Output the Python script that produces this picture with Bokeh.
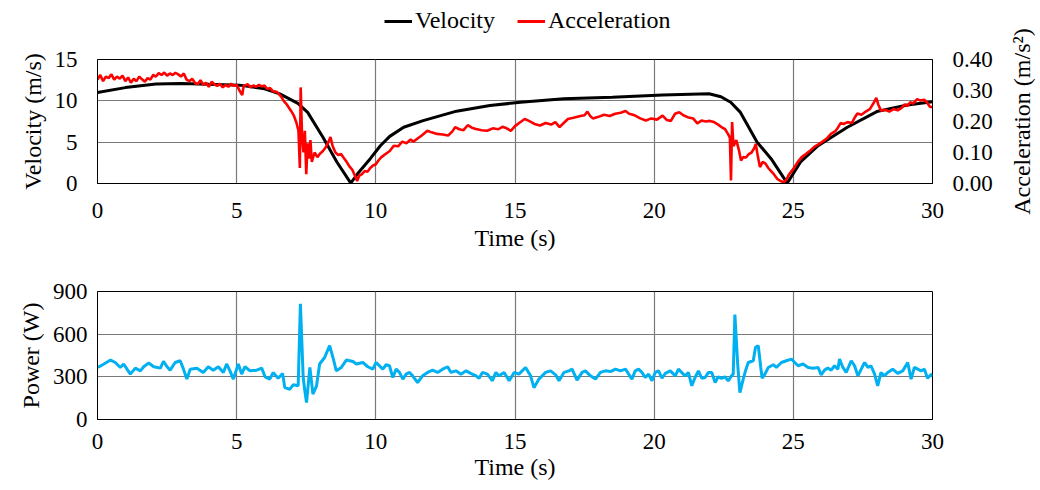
from bokeh.plotting import figure
from bokeh.models import Range1d, LinearAxis, Legend, LegendItem, FixedTicker, PrintfTickFormatter, Title
from bokeh.layouts import column, row
from bokeh.embed import file_html
from bokeh.resources import INLINE

FONT = "Liberation Serif"
TICK_FS = "23px"
TITLE_FS = "24px"

# ---- data ----
vel_t = [0, 1, 2.1, 3, 4, 5.1, 6.0, 6.55, 7.2, 7.55, 8.1, 8.6, 9.1, 9.35, 9.8, 10.17, 10.5,
         11.0, 11.7, 12.9, 14.1, 15.2, 16.75, 18.5, 20.3, 21.97, 22.4, 22.75, 23.1, 23.7,
         24.2, 24.78, 25.26, 25.86, 26.94, 28.0, 29.1, 30]
vel_v = [11.0, 11.6, 12.05, 12.1, 12.0, 11.9, 11.45, 10.85, 9.7, 8.6, 5.6, 2.6, 0.05, 1.2,
         3.0, 4.6, 5.7, 6.8, 7.6, 8.75, 9.43, 9.83, 10.24, 10.44, 10.7, 10.85, 10.5, 9.83,
         8.6, 5.0, 3.0, 0.05, 2.6, 4.5, 6.8, 8.7, 9.5, 9.9]

acc_t = [0.00, 0.10, 0.20, 0.30, 0.40, 0.50, 0.60, 0.70, 0.80, 0.90, 1.00, 1.10, 1.20, 1.30,
         1.40, 1.50, 1.60, 1.70, 1.80, 1.90, 2.00, 2.10, 2.20, 2.30, 2.40, 2.50, 2.60, 2.70,
         2.80, 2.90, 3.00, 3.10, 3.20, 3.30, 3.40, 3.50, 3.60, 3.70, 3.80, 3.90, 4.00, 4.10,
         4.20, 4.30, 4.40, 4.50, 4.60, 4.70, 4.80, 4.90, 5.00, 5.10, 5.20, 5.25, 5.40, 5.50,
         5.60, 5.70, 5.80, 5.90, 6.00, 6.10, 6.20, 6.30, 6.45, 6.60, 6.70, 6.80, 6.95, 7.05,
         7.15, 7.22, 7.27, 7.30, 7.35, 7.40, 7.45, 7.50, 7.55, 7.60, 7.65, 7.70, 7.80, 7.90,
         8.00, 8.10, 8.20, 8.30, 8.37, 8.45, 8.55, 8.65, 8.75, 8.85, 8.95, 9.05, 9.15, 9.25,
         9.33, 9.40, 9.50, 9.60, 9.70, 9.80, 9.90, 10.00, 10.10, 10.20, 10.35, 10.50, 10.65,
         10.80, 10.95, 11.10, 11.25, 11.35, 11.50, 11.65, 11.85, 12.00, 12.20, 12.40, 12.60,
         12.75, 12.85, 13.00, 13.15, 13.30, 13.45, 13.60, 13.80, 14.00, 14.20, 14.40, 14.55,
         14.70, 14.85, 15.00, 15.15, 15.35, 15.50, 15.70, 15.90, 16.10, 16.30, 16.45, 16.60,
         16.75, 16.90, 17.10, 17.35, 17.50, 17.60, 17.70, 17.80, 18.00, 18.20, 18.40, 18.60,
         18.80, 18.97, 19.10, 19.30, 19.50, 19.70, 19.90, 20.10, 20.30, 20.45, 20.60, 20.75,
         20.90, 21.05, 21.20, 21.40, 21.55, 21.70, 21.85, 22.00, 22.15, 22.30, 22.45, 22.55,
         22.65, 22.72, 22.76, 22.80, 22.85, 22.95, 23.05, 23.12, 23.20, 23.30, 23.40, 23.50,
         23.60, 23.65, 23.72, 23.80, 23.90, 24.00, 24.10, 24.20, 24.30, 24.42, 24.54, 24.65,
         24.75, 24.85, 25.00, 25.15, 25.30, 25.45, 25.60, 25.75, 25.90, 26.05, 26.20, 26.35,
         26.50, 26.60, 26.70, 26.80, 26.95, 27.10, 27.20, 27.30, 27.45, 27.60, 27.75, 27.90,
         27.98, 28.05, 28.15, 28.30, 28.45, 28.60, 28.75, 28.90, 29.00, 29.10, 29.20, 29.30,
         29.45, 29.55, 29.70, 29.80, 29.90, 30.00]
acc_a = [0.335, 0.350, 0.330, 0.345, 0.340, 0.352, 0.335, 0.345, 0.338, 0.348, 0.330, 0.342,
         0.325, 0.338, 0.330, 0.345, 0.336, 0.328, 0.340, 0.335, 0.350, 0.345, 0.356, 0.350,
         0.358, 0.348, 0.355, 0.350, 0.357, 0.352, 0.345, 0.355, 0.335, 0.330, 0.338, 0.325,
         0.320, 0.333, 0.318, 0.325, 0.312, 0.328, 0.320, 0.315, 0.322, 0.310, 0.318, 0.312,
         0.322, 0.315, 0.318, 0.300, 0.285, 0.315, 0.320, 0.310, 0.316, 0.312, 0.318, 0.313,
         0.316, 0.305, 0.308, 0.298, 0.295, 0.280, 0.265, 0.255, 0.235, 0.220, 0.195, 0.170,
         0.050, 0.310, 0.150, 0.100, 0.170, 0.030, 0.130, 0.080, 0.140, 0.070, 0.100, 0.085,
         0.097, 0.105, 0.117, 0.135, 0.150, 0.120, 0.100, 0.092, 0.095, 0.082, 0.070, 0.055,
         0.045, 0.025, 0.008, 0.025, 0.030, 0.040, 0.038, 0.050, 0.058, 0.062, 0.075, 0.085,
         0.095, 0.105, 0.122, 0.120, 0.135, 0.130, 0.142, 0.135, 0.145, 0.155, 0.170, 0.165,
         0.160, 0.158, 0.155, 0.168, 0.182, 0.175, 0.172, 0.188, 0.180, 0.176, 0.172, 0.170,
         0.178, 0.175, 0.183, 0.178, 0.170, 0.185, 0.195, 0.208, 0.202, 0.192, 0.187, 0.195,
         0.190, 0.198, 0.182, 0.195, 0.208, 0.212, 0.218, 0.220, 0.232, 0.218, 0.210, 0.215,
         0.222, 0.218, 0.225, 0.228, 0.234, 0.225, 0.220, 0.210, 0.203, 0.210, 0.206, 0.219,
         0.205, 0.202, 0.225, 0.230, 0.220, 0.214, 0.210, 0.194, 0.203, 0.200, 0.202, 0.198,
         0.190, 0.180, 0.175, 0.160, 0.148, 0.010, 0.198, 0.120, 0.140, 0.106, 0.074, 0.085,
         0.084, 0.095, 0.100, 0.115, 0.128, 0.090, 0.053, 0.070, 0.064, 0.050, 0.040, 0.030,
         0.015, 0.008, 0.004, 0.012, 0.030, 0.047, 0.068, 0.085, 0.095, 0.106, 0.118, 0.126,
         0.135, 0.145, 0.160, 0.168, 0.180, 0.195, 0.192, 0.198, 0.195, 0.212, 0.226, 0.222,
         0.232, 0.240, 0.262, 0.276, 0.255, 0.235, 0.238, 0.232, 0.240, 0.236, 0.245, 0.255,
         0.250, 0.262, 0.258, 0.272, 0.268, 0.270, 0.262, 0.248, 0.246]

pow_t = [0.01, 0.23, 0.47, 0.64, 0.82, 0.94, 1.06, 1.18, 1.36, 1.54, 1.66, 1.84, 2.02, 2.26,
         2.37, 2.50, 2.61, 2.79, 2.97, 3.09, 3.21, 3.33, 3.57, 3.80, 3.98, 4.16, 4.34, 4.52,
         4.64, 4.76, 4.88, 5.06, 5.18, 5.30, 5.48, 5.72, 5.90, 6.02, 6.19, 6.31, 6.49, 6.65,
         6.73, 6.91, 7.03, 7.21, 7.29, 7.39, 7.45, 7.51, 7.63, 7.74, 7.87, 7.98, 8.16, 8.34,
         8.46, 8.58, 8.76, 8.94, 9.18, 9.30, 9.53, 9.71, 9.89, 10.01, 10.25, 10.37, 10.49,
         10.61, 10.73, 10.85, 10.97, 11.09, 11.21, 11.32, 11.50, 11.68, 11.86, 12.04, 12.22,
         12.40, 12.58, 12.70, 12.88, 13.06, 13.24, 13.41, 13.60, 13.71, 13.83, 14.01, 14.19,
         14.31, 14.43, 14.61, 14.79, 14.97, 15.14, 15.38, 15.56, 15.68, 15.86, 16.10, 16.28,
         16.46, 16.58, 16.76, 16.94, 17.05, 17.23, 17.41, 17.53, 17.71, 17.89, 18.07, 18.25,
         18.43, 18.61, 18.79, 18.97, 19.20, 19.32, 19.44, 19.56, 19.68, 19.80, 19.92, 20.04,
         20.16, 20.28, 20.40, 20.58, 20.76, 20.87, 21.11, 21.23, 21.35, 21.47, 21.59, 21.71,
         21.83, 21.95, 22.07, 22.19, 22.30, 22.42, 22.54, 22.66, 22.78, 22.84, 22.90, 23.00,
         23.08, 23.20, 23.28, 23.38, 23.56, 23.64, 23.74, 23.83, 23.88, 23.98, 24.10, 24.28,
         24.39, 24.57, 24.75, 24.93, 25.05, 25.17, 25.35, 25.53, 25.71, 25.89, 26.00, 26.12,
         26.24, 26.36, 26.48, 26.60, 26.66, 26.78, 26.90, 27.08, 27.20, 27.32, 27.44, 27.56,
         27.68, 27.79, 27.92, 28.03, 28.15, 28.27, 28.39, 28.57, 28.75, 28.93, 29.11, 29.23,
         29.35, 29.47, 29.59, 29.71, 29.82, 29.94, 30.00]
pow_p = [366, 390, 418, 401, 366, 390, 354, 319, 361, 342, 371, 397, 371, 361,
         408, 371, 347, 401, 413, 354, 284, 354, 361, 330, 371, 347, 371, 330,
         390, 342, 284, 390, 319, 371, 342, 347, 361, 300, 284, 330, 290, 324,
         224, 213, 244, 237, 813, 295, 200, 119, 366, 178, 237, 390, 436, 519,
         436, 342, 366, 418, 408, 390, 401, 371, 354, 401, 354, 385, 378,
         295, 354, 331, 284, 319, 331, 307, 260, 307, 331, 347, 331,
         354, 371, 331, 342, 319, 342, 324, 307, 290, 331, 319, 272,
         331, 307, 331, 272, 331, 319, 366, 307, 224, 284, 331, 342,
         314, 272, 331, 342, 354, 277, 331, 342, 307, 284, 331, 342,
         337, 354, 342, 354, 284, 342, 354, 331, 295, 319, 272, 331,
         342, 290, 324, 342, 307, 354, 307, 331, 237, 295, 342, 290,
         295, 331, 331, 260, 300, 290, 300, 272, 307, 319, 738, 390,
         189, 284, 342, 401, 413, 507, 519, 366, 290, 319, 366, 385,
         366, 401, 413, 425, 401, 378, 390, 366, 361, 366, 314, 347,
         361, 347, 378, 354, 425, 366, 331, 413, 378, 307, 354, 401,
         366, 378, 319, 237, 331, 307, 331, 354, 324, 342, 401, 284,
         366, 354, 342, 354, 290, 314, 319]

x_ticks = [0, 5, 10, 15, 20, 25, 30]
vel_ticks = [0, 5, 10, 15]
acc_ticks = [0.0, 0.1, 0.2, 0.3, 0.4]
pow_ticks = [0, 300, 600, 900]
series_names = ["Velocity", "Acceleration"]

GRID = "#7a7a7a"
VEL_COLOR = "black"
ACC_COLOR = "#ff0000"
POW_COLOR = "#00b0f0"


def style(p):
    p.background_fill_color = "white"
    p.border_fill_color = "white"
    p.outline_line_color = "black"
    p.outline_line_width = 1
    for ax in p.xaxis + p.yaxis:
        ax.major_tick_line_color = None
        ax.minor_tick_line_color = None
        ax.major_tick_out = 0
        ax.major_tick_in = 0
        ax.axis_line_color = "black"
        ax.major_label_text_font = FONT
        ax.major_label_text_font_size = TICK_FS
        ax.major_label_text_color = "black"
        ax.axis_label_text_font = FONT
        ax.axis_label_text_font_size = TITLE_FS
        ax.axis_label_text_font_style = "normal"
        ax.axis_label_text_color = "black"
    p.xgrid.grid_line_color = GRID
    p.ygrid.grid_line_color = GRID
    p.xgrid.grid_line_width = 1.2
    p.ygrid.grid_line_width = 1.2


# ---- legend strip (frame aligned with the plots below) ----
p0 = figure(width=1006, height=34, output_backend="svg", toolbar_location=None,
            x_range=Range1d(0, 1), y_range=Range1d(0, 1),
            x_axis_type=None, y_axis_type=None,
            min_border_left=97, min_border_right=74, min_border_top=0, min_border_bottom=0)
p0.outline_line_color = None
p0.xgrid.visible = False
p0.ygrid.visible = False
lg_v = p0.line([-2, -1], [-2, -1], line_color=VEL_COLOR, line_width=3)
lg_a = p0.line([-2, -1], [-2, -1], line_color=ACC_COLOR, line_width=3)
legend = Legend(items=[LegendItem(label=series_names[0], renderers=[lg_v]),
                       LegendItem(label=series_names[1], renderers=[lg_a])],
                orientation="horizontal", location=(287, 0),
                border_line_color=None, background_fill_alpha=0,
                label_text_font=FONT, label_text_font_size=TITLE_FS,
                label_text_color="black",
                glyph_width=28, label_standoff=3, spacing=22, padding=0, margin=0)
p0.add_layout(legend)

# ---- top figure ----
p1 = figure(width=1006, height=231, output_backend="svg", toolbar_location=None,
            x_range=Range1d(0, 30), y_range=Range1d(0, 15),
            min_border_left=97, min_border_right=74, min_border_top=25, min_border_bottom=82)
p1.extra_y_ranges = {"acc": Range1d(0, 0.4)}
r_ax = LinearAxis(y_range_name="acc", ticker=FixedTicker(ticks=acc_ticks),
                  formatter=PrintfTickFormatter(format="%.2f"))
p1.add_layout(r_ax, "right")
p1.xaxis.ticker = FixedTicker(ticks=x_ticks)
p1.yaxis[0].ticker = FixedTicker(ticks=vel_ticks)
p1.xaxis.axis_label = "Time (s)"
p1.yaxis[0].axis_label = "Velocity (m/s)"
style(p1)
p1.xgrid.ticker = FixedTicker(ticks=x_ticks)
p1.ygrid.ticker = FixedTicker(ticks=vel_ticks)
p1.yaxis[0].major_label_standoff = 20
p1.yaxis[0].axis_label_standoff = 6
r_ax.major_label_standoff = 20
p1.xaxis.major_label_standoff = 19
p1.xaxis.axis_label_standoff = 4

p1.line(vel_t, vel_v, line_color=VEL_COLOR, line_width=3)
p1.line(acc_t, acc_a, line_color=ACC_COLOR, line_width=2.6, y_range_name="acc")

# ---- bottom figure ----
p2 = figure(width=1006, height=225, output_backend="svg", toolbar_location=None,
            x_range=Range1d(0, 30), y_range=Range1d(0, 900),
            min_border_left=97, min_border_right=71, min_border_top=26, min_border_bottom=71)
p2.xaxis.ticker = FixedTicker(ticks=x_ticks)
p2.yaxis.ticker = FixedTicker(ticks=pow_ticks)
p2.xaxis.axis_label = "Time (s)"
p2.yaxis.axis_label = "Power (W)"
style(p2)
p2.xgrid.ticker = FixedTicker(ticks=x_ticks)
p2.ygrid.ticker = FixedTicker(ticks=pow_ticks)
p2.yaxis.major_label_standoff = 10
p2.yaxis.axis_label_standoff = 6
p2.xaxis.major_label_standoff = 14
p2.xaxis.axis_label_standoff = 2
p2.line(pow_t, pow_p, line_color=POW_COLOR, line_width=3)

# ---- right-hand title strip for the secondary axis (reads bottom to top) ----
# frame aligned with the top plot's frame (page y 59..183)
pR = figure(width=32, height=265, output_backend="svg", toolbar_location=None,
            x_range=Range1d(0, 1), y_range=Range1d(0, 1),
            x_axis_type=None, y_axis_type=None,
            min_border_left=0, min_border_right=0, min_border_top=59, min_border_bottom=82)
pR.outline_line_color = None
pR.xgrid.visible = False
pR.ygrid.visible = False
pR.add_layout(Title(text="Acceleration (m/s²)", align="center", text_font=FONT,
                    text_font_size=TITLE_FS, text_font_style="normal",
                    text_color="black", standoff=0, offset=0), "left")

layout = row(column(p0, p1, p2), pR)
open("out.html", "w").write(file_html(layout, INLINE))
